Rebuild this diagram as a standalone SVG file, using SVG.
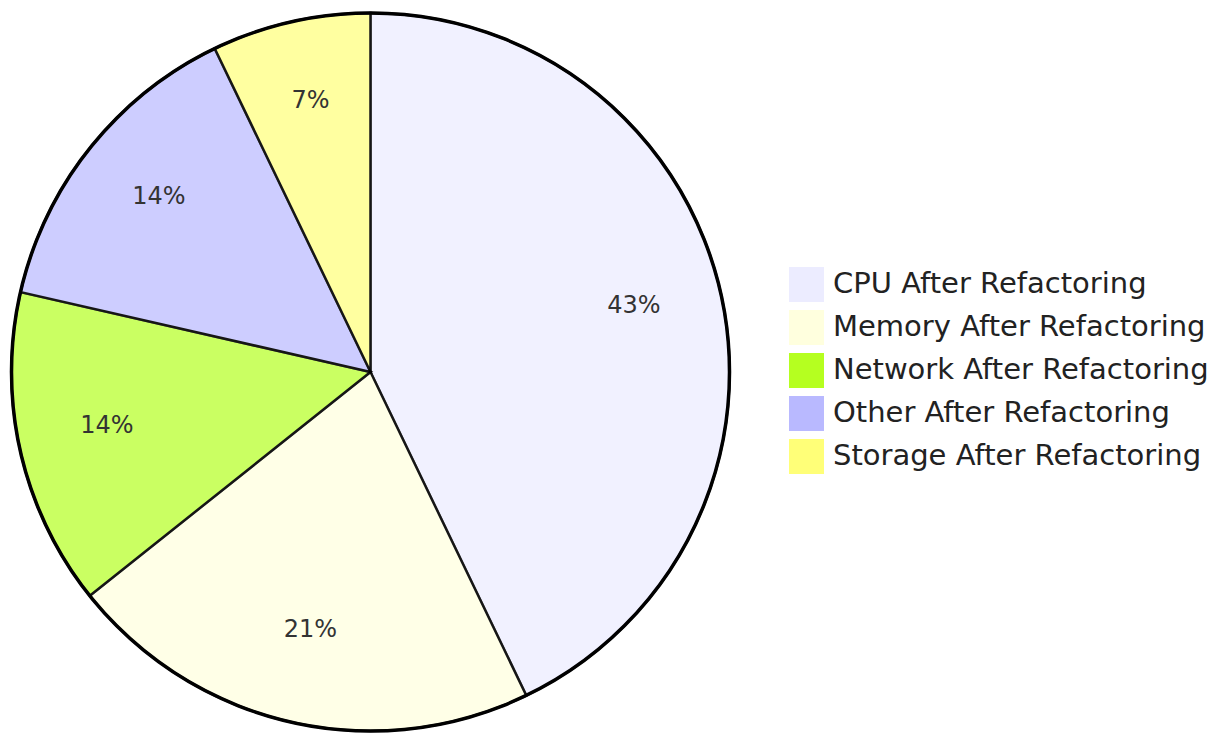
<svg xmlns="http://www.w3.org/2000/svg" width="1223" height="736" viewBox="0 0 1223 736">
  <style>
    .slice { stroke: #000; stroke-width: 2.5px; opacity: 0.7; }
    .pct { font-family: "DejaVu Sans", Verdana, sans-serif; font-size: 24px; fill: #333; text-anchor: middle; }
    .leg { font-family: "DejaVu Sans", Verdana, sans-serif; font-size: 29px; fill: #222; }
  </style>
  <rect width="1223" height="736" fill="#fff"/>
  <g id="pie">
    <g id="slice-cpu">
      <path class="slice" fill="#ECECFF" d="M370.5,372 L370.5,13 A359,359 0 0 1 526.3,695.5 Z"/>
    </g>
    <g id="slice-memory">
      <path class="slice" fill="#FFFFDE" d="M370.5,372 L526.3,695.5 A359,359 0 0 1 89.8,595.8 Z"/>
    </g>
    <g id="slice-network">
      <path class="slice" fill="#B5FF20" d="M370.5,372 L89.8,595.8 A359,359 0 0 1 20.5,292.1 Z"/>
    </g>
    <g id="slice-other">
      <path class="slice" fill="#B9B9FF" d="M370.5,372 L20.5,292.1 A359,359 0 0 1 214.7,48.5 Z"/>
    </g>
    <g id="slice-storage">
      <path class="slice" fill="#FFFF78" d="M370.5,372 L214.7,48.5 A359,359 0 0 1 370.5,13 Z"/>
    </g>
    <circle cx="370.5" cy="372" r="359" fill="none" stroke="#000" stroke-width="3.5"/>
    <text class="pct" x="634" y="313">43%</text>
    <text class="pct" x="310.5" y="637">21%</text>
    <text class="pct" x="107" y="433">14%</text>
    <text class="pct" x="159" y="204">14%</text>
    <text class="pct" x="310.5" y="108">7%</text>
  </g>
  <g id="legend">
    <g id="legend-cpu">
      <rect x="789" y="267" width="35" height="35" fill="#ECECFF"/>
      <text class="leg" x="833" y="293">CPU After Refactoring</text>
    </g>
    <g id="legend-memory">
      <rect x="789" y="310" width="35" height="35" fill="#FFFFDE"/>
      <text class="leg" x="833" y="336">Memory After Refactoring</text>
    </g>
    <g id="legend-network">
      <rect x="789" y="353" width="35" height="35" fill="#B5FF20"/>
      <text class="leg" x="833" y="379">Network After Refactoring</text>
    </g>
    <g id="legend-other">
      <rect x="789" y="396" width="35" height="35" fill="#B9B9FF"/>
      <text class="leg" x="833" y="422">Other After Refactoring</text>
    </g>
    <g id="legend-storage">
      <rect x="789" y="439" width="35" height="35" fill="#FFFF78"/>
      <text class="leg" x="833" y="465">Storage After Refactoring</text>
    </g>
  </g>
</svg>
